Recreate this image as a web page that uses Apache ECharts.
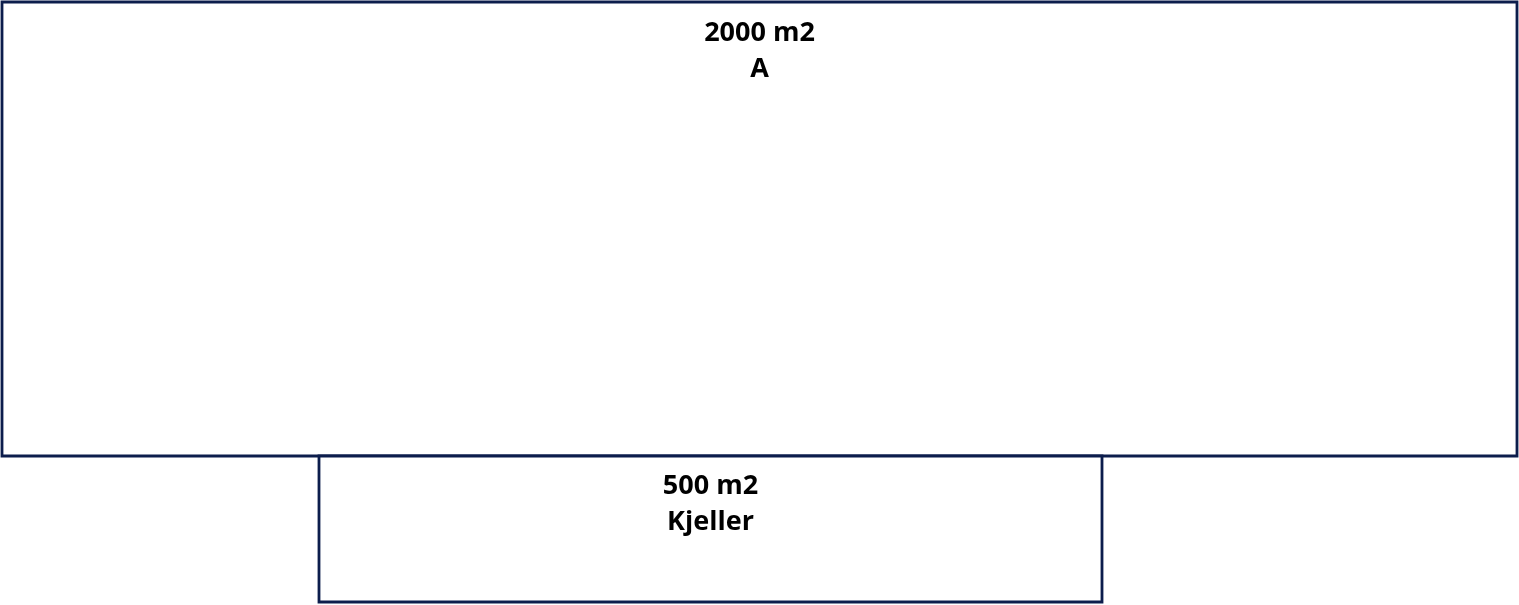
<!DOCTYPE html>
<html>
<head>
<meta charset="utf-8">
<style>
html,body{margin:0;padding:0;background:#fff;}
#chart{width:1519px;height:605px;}
</style>
<script src="https://cdn.jsdelivr.net/npm/echarts@6/dist/echarts.min.js"></script>
</head>
<body>
<div id="chart"></div>
<script>
// Room data (extents in plan units along the hidden axes)
const roomNames = ['A', 'Kjeller'];
const roomAreas = [2000, 500];
const roomX0 = [2, 319];
const roomX1 = [1517, 1102];
const roomY0 = [2, 456];
const roomY1 = [456, 602];
const labelY = [51.5, 504.5];

const data = roomNames.map((n, i) => [roomX0[i], roomX1[i], roomY0[i], roomY1[i], labelY[i], roomAreas[i] + ' m2\n' + n]);

const chart = echarts.init(document.getElementById('chart'));
chart.setOption({
  animation: false,
  grid: {left: 0, right: 0, top: 0, bottom: 0},
  xAxis: {type: 'value', min: 0, max: 1519, show: false},
  yAxis: {type: 'value', min: 0, max: 605, inverse: true, show: false},
  series: [{
    type: 'custom',
    data: data,
    renderItem: function (params, api) {
      const p0 = api.coord([api.value(0), api.value(2)]);
      const p1 = api.coord([api.value(1), api.value(3)]);
      const lc = api.coord([(api.value(0) + api.value(1)) / 2, api.value(4)]);
      const d = data[params.dataIndex];
      return {
        type: 'group',
        children: [{
          type: 'rect',
          shape: {x: p0[0], y: p0[1], width: p1[0] - p0[0], height: p1[1] - p0[1]},
          style: {fill: '#ffffff', stroke: '#0c1d4c', lineWidth: 2.8}
        }, {
          type: 'text',
          x: lc[0], y: lc[1],
          style: {
            text: d[5],
            align: 'center', verticalAlign: 'middle',
            font: 'bold 27px "Open Sans", sans-serif',
            lineHeight: 36,
            fill: '#000000'
          }
        }]
      };
    }
  }]
});
</script>
</body>
</html>
